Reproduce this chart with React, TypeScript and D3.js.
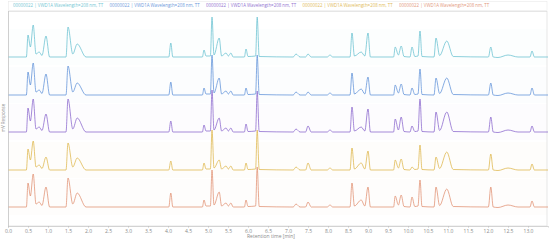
import React, { useRef, useEffect } from "react";
import * as d3 from "d3";

const width = 550;
const height = 241;

// retention times of the trace vertices (min)
const times = [
  0, 0.46, 0.5, 0.56, 0.63, 0.7, 0.78, 0.85, 0.95, 1.04,
  1.45, 1.5, 1.62, 1.73, 1.95,
  4.02, 4.07, 4.12,
  4.86, 4.9, 4.95, 5.06, 5.1, 5.15, 5.28, 5.34, 5.45, 5.51, 5.57, 5.63,
  5.91, 5.95, 6.0, 6.19, 6.23, 6.28,
  7.13, 7.2, 7.3, 7.44, 7.5, 7.58, 7.98, 8.05, 8.12,
  8.55, 8.6, 8.66, 8.83, 8.92, 9.0, 9.06,
  9.64, 9.68, 9.76, 9.83, 9.9, 10.05, 10.1, 10.17, 10.25, 10.3, 10.35,
  10.65, 10.7, 10.79, 10.97, 11.13,
  12.01, 12.07, 12.13, 12.25, 12.5, 12.75, 13.05, 13.1, 13.16, 13.45,
];

const cyanValues = [
  0, 0, 22, 10, 32, 3, 5, 1.5, 21, 0,
  0, 30, 3, 13, 0,
  0, 14, 0,
  0, 7, 1, 1, 40, 2, 19, 1, 4, 1, 4, 0,
  0, 8, 0.5, 1, 40, 0.5,
  0, 3, 0, 0, 3, 0, 0, 2, 0,
  0, 24, 1, 5, 1, 24, 0,
  0, 10, 2, 11, 0.5, 0, 10, 0.5, 1, 26, 0.5,
  0, 19, 1.5, 16, 0.5,
  0, 10, 0, -0.5, 2, 0, 0, 6, 0, 0,
];

const blueValues = [
  0, 0, 23, 10, 32, 3, 5, 1.5, 21, 0,
  0, 29, 3, 12, 0,
  0, 13, 0,
  0, 7, 1, 1, 40, 2, 17, 1, 4, 1, 4, 0,
  0, 7, 0.5, 1, 40, 0.5,
  0, 3, 0, 0, 3, 0, 0, 2, 0,
  0, 22, 1, 6, 1, 18, 0,
  0, 10, 2, 11, 0.5, 0, 7, 0.5, 1, 26, 0.5,
  0, 17, 1.5, 17, 0.5,
  0, 12, 0, -0.5, 2, 0, 0, 7, 0, 0,
];

const purpleValues = [
  0, 0, 24, 11, 33, 3, 5, 1.5, 18, 0,
  0, 33, 3, 14, 0,
  0, 11, 0,
  0, 7, 1, 1, 42, 2, 14, 1, 4, 1, 4, 0,
  0, 8, 0.5, 1, 41, 0.5,
  0, 3, 0, 0, 6, 0, 0, 2, 0,
  0, 25, 1, 5, 1, 23, 0,
  0, 13, 2, 15, 0.5, 0, 6, 0.5, 1, 33, 0.5,
  0, 20, 1.5, 20, 0.5,
  0, 15, 0, -0.5, 2, 0, 0, 6, 0, 0,
];

const yellowValues = [
  0, 0, 21, 10, 29, 3, 5, 1.5, 13, 0,
  0, 27, 3, 12, 0,
  0, 9, 0,
  0, 7, 1, 1, 40, 2, 10, 1, 4, 1, 4, 0,
  0, 7, 0.5, 1, 40, 0.5,
  0, 3, 0, 0, 7, 0, 0, 2, 0,
  0, 22, 1, 7, 1, 19, 0,
  0, 10, 2, 11, 0.5, 0, 3, 0.5, 1, 25, 0.5,
  0, 13, 1.5, 18, 0.5,
  0, 16, 0, -0.5, 2, 0, 0, 6, 0, 0,
];

const orangeValues = [
  0, 0, 24, 11, 33, 3, 5, 1.5, 20, 0,
  0, 29, 3, 14, 0,
  0, 14, 0,
  0, 7, 1, 1, 37, 2, 15, 1, 4, 1, 4, 0,
  0, 7, 0.5, 1, 40, 0.5,
  0, 3, 0, 0, 5, 0, 0, 2, 0,
  0, 24, 1, 7, 1, 20, 0,
  0, 11, 2, 12, 0.5, 0, 10, 0.5, 1, 27, 0.5,
  0, 20, 1.5, 18, 0.5,
  0, 20, 0, -0.5, 2, 0, 0, 6, 0, 0,
];

const seriesNames = [
  "00000022 | VWD1A Wavelength=208 nm, TT",
  "00000022 | VWD1A Wavelength=208 nm, TT",
  "00000022 | VWD1A Wavelength=208 nm, TT",
  "00000022 | VWD1A Wavelength=208 nm, TT",
  "00000022 | VWD1A Wavelength=208 nm, TT",
];
const seriesColors = ["#5cbccd", "#5288d6", "#8059c9", "#dbb03c", "#de8766"];
const seriesOffsets = [169, 131, 94, 56, 19]; // stacked display offset (mV)
const seriesValues = [cyanValues, blueValues, purpleValues, yellowValues, orangeValues];

const xTicks = d3.range(0, 13.01, 0.5);

function App() {
  const svgRef = useRef(null);

  useEffect(() => {
    const svg = d3.select(svgRef.current);
    svg.selectAll("*").remove();

    const xScale = d3.scaleLinear().domain([0, 13.5]).range([8, 548]);
    const yScale = d3.scaleLinear().domain([0, 215]).range([226, 11]);

    // faint bands behind traces
    seriesOffsets.forEach((off, i) => {
      svg
        .append("rect")
        .attr("x", 9)
        .attr("y", yScale(off + 28))
        .attr("width", 538)
        .attr("height", yScale(off - 8) - yScale(off + 28))
        .attr("fill", seriesColors[i])
        .attr("opacity", 0.02);
    });

    // frame
    svg
      .append("rect")
      .attr("x", 8.5)
      .attr("y", 11.5)
      .attr("width", 538.5)
      .attr("height", 214.5)
      .attr("fill", "none")
      .attr("stroke", "#dcdcdc")
      .attr("stroke-width", 0.7);

    // legend box
    svg
      .append("rect")
      .attr("x", 8.5)
      .attr("y", 1.5)
      .attr("width", 538.5)
      .attr("height", 9)
      .attr("fill", "white")
      .attr("stroke", "#e6e6e6")
      .attr("stroke-width", 0.5);

    seriesNames.forEach((name, i) => {
      svg
        .append("text")
        .attr("x", 13 + i * 96.5)
        .attr("y", 6.3)
        .attr("dominant-baseline", "middle")
        .style("font-family", "Open Sans, sans-serif")
        .style("font-size", "4.4px")
        .attr("fill", seriesColors[i])
        .attr("opacity", 0.85)
        .text(name);
    });

    const line = d3
      .line()
      .x((d) => xScale(d[0]))
      .y((d) => yScale(d[1]))
      .curve(d3.curveMonotoneX);

    // draw bottom traces first so upper ones overlap
    [4, 3, 2, 1, 0].forEach((i) => {
      const pts = times.map((t, k) => [t, seriesValues[i][k] + seriesOffsets[i]]);
      pts.push([13.5, seriesOffsets[i]]);
      svg
        .append("path")
        .datum(pts)
        .attr("fill", "none")
        .attr("stroke", seriesColors[i])
        .attr("stroke-width", 0.7)
        .attr("d", line);
    });

    // x axis
    const xAxis = svg
      .append("g")
      .attr("transform", `translate(0,226)`)
      .call(
        d3
          .axisBottom(xScale)
          .tickValues(xTicks)
          .tickFormat(d3.format(".1f"))
          .tickSize(1.5)
          .tickPadding(1.5)
      );
    xAxis.select(".domain").attr("stroke", "#c4c4c4").attr("stroke-width", 0.7);
    xAxis.selectAll(".tick line").attr("stroke", "#c4c4c4");
    xAxis
      .selectAll(".tick text")
      .attr("fill", "#8a8a8a")
      .style("font-family", "Open Sans, sans-serif")
      .style("font-size", "5px");

    // y axis line
    svg
      .append("line")
      .attr("x1", 8.5)
      .attr("x2", 8.5)
      .attr("y1", 11)
      .attr("y2", 226)
      .attr("stroke", "#c4c4c4")
      .attr("stroke-width", 0.7);

    svg
      .append("text")
      .attr("x", 271)
      .attr("y", 237.5)
      .style("text-anchor", "middle")
      .style("font-family", "Open Sans, sans-serif")
      .style("font-size", "5px")
      .attr("fill", "#8a8a8a")
      .text("Retention time [min]");

    svg
      .append("text")
      .attr("transform", "rotate(-90)")
      .attr("x", -118)
      .attr("y", 4.5)
      .style("text-anchor", "middle")
      .style("font-family", "Open Sans, sans-serif")
      .style("font-size", "4.5px")
      .attr("fill", "#8a8a8a")
      .text("mV Response");
  }, []);

  return (
    <svg
      ref={svgRef}
      width={width}
      height={height}
      style={{ position: "absolute", left: 0, top: 0, background: "white" }}
    ></svg>
  );
}

export default App;
